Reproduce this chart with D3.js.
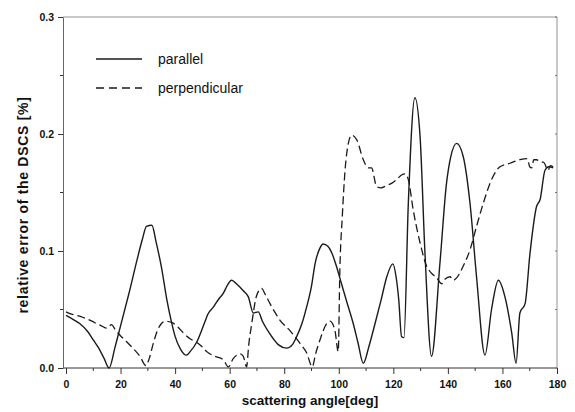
<!DOCTYPE html>
<html>
<head>
<meta charset="utf-8">
<script src="https://cdn.jsdelivr.net/npm/d3@7"></script>
<style>
  html, body { margin: 0; padding: 0; background: #fff; }
  svg { display: block; }
</style>
</head>
<body>
<div id="chart"></div>
<script>
// scattering angle [deg] / relative error [%]
const parallelX = [0, 3, 5, 8, 10, 12, 14, 15.8, 18, 20, 23, 26, 28, 29.5, 31.5, 33, 35, 37, 38.7, 40, 42, 44.2, 45.5, 47.9,
  51, 52, 54, 56, 57.7, 59, 60.7, 62, 63.8, 65, 66.8, 68.7, 70.5, 72, 74.2, 76, 77.8, 80.9, 83, 84.6, 86.5, 88.2, 90,
  91.3, 93, 94.3, 96, 97.5, 99, 101, 103, 105.3, 107, 109, 111, 113.3, 115.5, 117.6, 119.8, 121, 122, 123, 123.9,
  125.5, 127.9, 129.8, 131.6, 134, 137.1, 139.5, 141, 143.2, 145.6, 148.1, 150.5, 153.6, 156, 158.5, 160.9, 163.4,
  165, 166.4, 168.3, 170.1, 172.5, 173.8, 175.6, 177, 178.6];
const parallelY = [0.045, 0.041, 0.038, 0.031, 0.024, 0.017, 0.008, 0.0, 0.018, 0.036, 0.063, 0.092, 0.110, 0.121, 0.122,
  0.108, 0.086, 0.058, 0.039, 0.027, 0.016, 0.011, 0.014, 0.022, 0.040, 0.046, 0.052, 0.059, 0.064, 0.070, 0.075,
  0.073, 0.069, 0.066, 0.061, 0.047, 0.048, 0.040, 0.031, 0.025, 0.020, 0.017, 0.020, 0.027, 0.038, 0.052, 0.070,
  0.089, 0.102, 0.106, 0.104, 0.098, 0.088, 0.072, 0.056, 0.038, 0.022, 0.004, 0.018, 0.038, 0.058, 0.078, 0.089,
  0.078, 0.058, 0.027, 0.026, 0.141, 0.231, 0.198, 0.098, 0.010, 0.090, 0.158, 0.180, 0.192, 0.181, 0.141, 0.078,
  0.011, 0.050, 0.075, 0.061, 0.030, 0.004, 0.047, 0.055, 0.098, 0.138, 0.144, 0.169, 0.172, 0.171];

const perpX = [0, 2, 3.9, 5.5, 7.6, 9.5, 11.2, 13, 14.9, 16.7, 18, 19.8, 22, 24.1, 27.1, 29.3, 30.5, 32, 33.5, 35, 36.5,
  38.7, 41, 43, 45.5, 48.5, 50, 51.6, 54.6, 57.7, 59.5, 61.3, 63.8, 65, 66.2, 67, 68.1, 69.9, 71.7, 73, 74.8, 76.5,
  78.4, 82.1, 85.8, 88.2, 90.3, 91.5, 93.1, 95.6, 96.8, 98.6, 99.8, 100.4, 101.3, 102.3, 103.5, 104.7, 106.6, 109,
  110.8, 112, 113.9, 115.5, 117.6, 119.5, 121.2, 123, 124.3, 125.5, 127.3, 129.8, 132.2, 134, 135.9, 137.7, 139,
  140.8, 142, 143.2, 145.6, 148.1, 150.5, 153, 156, 159.1, 162.8, 166.4, 169.1, 170, 170.7, 171.5, 172.5, 174, 175,
  176.8, 177.5, 178.6];
const perpY = [0.048, 0.046, 0.045, 0.044, 0.042, 0.040, 0.038, 0.036, 0.034, 0.037, 0.033, 0.028, 0.023, 0.018, 0.010,
  0.002, 0.008, 0.021, 0.032, 0.038, 0.040, 0.039, 0.035, 0.030, 0.025, 0.021, 0.018, 0.014, 0.010, 0.007, 0.001,
  0.008, 0.012, 0.010, 0.001, 0.020, 0.038, 0.062, 0.068, 0.063, 0.055, 0.048, 0.041, 0.032, 0.021, 0.013, 0.001,
  0.012, 0.024, 0.038, 0.040, 0.032, 0.014, 0.084, 0.130, 0.169, 0.192, 0.199, 0.195, 0.178, 0.171, 0.171, 0.155,
  0.154, 0.156, 0.158, 0.161, 0.165, 0.166, 0.161, 0.135, 0.107, 0.087, 0.081, 0.077, 0.072, 0.076, 0.078, 0.075,
  0.077, 0.087, 0.101, 0.121, 0.141, 0.161, 0.172, 0.175, 0.178, 0.179, 0.172, 0.171, 0.178, 0.178, 0.176, 0.176,
  0.169, 0.173, 0.172];

const xTicks = [0, 20, 40, 60, 80, 100, 120, 140, 160, 180];
const xMinor = [10, 30, 50, 70, 90, 110, 130, 150, 170];
const yTicks = [0.0, 0.1, 0.2, 0.3];
const yMinor = [0.05, 0.15, 0.25];

const width = 575, height = 412;
const frameLeft = 63, frameRight = 557, frameTop = 17, frameBottom = 368;

const x = d3.scaleLinear().domain([0, 180]).range([66, 557]);
const y = d3.scaleLinear().domain([0, 0.3]).range([frameBottom, frameTop]);

const svg = d3.select("#chart")
  .append("svg")
  .attr("width", width)
  .attr("height", height)
  .attr("viewBox", [0, 0, width, height])
  .style("font-family", "'Liberation Sans', Arial, sans-serif");

// frame: top and right are faint
svg.append("line")
  .attr("x1", frameLeft).attr("x2", frameRight)
  .attr("y1", frameTop).attr("y2", frameTop)
  .attr("stroke", "#777").attr("stroke-width", 0.8);
svg.append("line")
  .attr("x1", frameRight).attr("x2", frameRight)
  .attr("y1", frameTop).attr("y2", frameBottom)
  .attr("stroke", "#777").attr("stroke-width", 0.8);

// bottom axis
const xAxis = d3.axisBottom(x).tickValues(xTicks).tickSize(6).tickSizeOuter(0).tickFormat(d3.format("d"));
svg.append("g")
  .attr("transform", `translate(0,${frameBottom})`)
  .call(xAxis)
  .call(g => g.select(".domain").attr("d", `M${frameLeft},0H${frameRight}`).attr("stroke", "#333"))
  .call(g => g.selectAll(".tick line").attr("stroke", "#333"))
  .call(g => g.selectAll(".tick text")
    .attr("font-size", 10.5).attr("font-weight", "bold").attr("fill", "#111").attr("dy", "1em"));

svg.append("g")
  .selectAll("line")
  .data(xMinor)
  .join("line")
  .attr("x1", d => x(d)).attr("x2", d => x(d))
  .attr("y1", frameBottom).attr("y2", frameBottom + 3)
  .attr("stroke", "#333");

// left axis
const yAxis = d3.axisLeft(y).tickValues(yTicks).tickSize(5).tickSizeOuter(0).tickFormat(d3.format(".1f"));
svg.append("g")
  .attr("transform", `translate(${frameLeft},0)`)
  .call(yAxis)
  .call(g => g.select(".domain").attr("stroke", "#666"))
  .call(g => g.selectAll(".tick line").attr("stroke", "#333"))
  .call(g => g.selectAll(".tick text")
    .attr("font-size", 10.5).attr("font-weight", "bold").attr("fill", "#111").attr("x", -9));

svg.append("g")
  .selectAll("line")
  .data(yMinor)
  .join("line")
  .attr("x1", frameLeft - 3).attr("x2", frameLeft)
  .attr("y1", d => y(d)).attr("y2", d => y(d))
  .attr("stroke", "#333");

// right side small inward ticks
svg.append("g")
  .selectAll("line")
  .data(yTicks.concat(yMinor))
  .join("line")
  .attr("x1", frameRight - 2).attr("x2", frameRight)
  .attr("y1", d => y(d)).attr("y2", d => y(d))
  .attr("stroke", "#777");

// axis titles
svg.append("text")
  .attr("x", 310).attr("y", 405)
  .attr("text-anchor", "middle")
  .attr("font-size", 13.5).attr("font-weight", "bold").attr("fill", "#111")
  .text("scattering angle[deg]");

svg.append("text")
  .attr("transform", `translate(28,205) rotate(-90)`)
  .attr("text-anchor", "middle")
  .attr("font-size", 14).attr("font-weight", "bold").attr("fill", "#111")
  .attr("letter-spacing", 0.7)
  .text("relative error of the DSCS [%]");

// curves
const line = (X, Y) => d3.line()
  .x(i => x(X[i]))
  .y(i => y(Y[i]))
  .curve(d3.curveMonotoneX)(d3.range(X.length));

svg.append("path")
  .attr("d", line(parallelX, parallelY))
  .attr("fill", "none")
  .attr("stroke", "#1a1a1a")
  .attr("stroke-width", 1.4)
  .attr("stroke-linejoin", "round");

svg.append("path")
  .attr("d", line(perpX, perpY))
  .attr("fill", "none")
  .attr("stroke", "#1a1a1a")
  .attr("stroke-width", 1.3)
  .attr("stroke-dasharray", "8,4")
  .attr("stroke-linejoin", "round");

// legend
const legend = [
  { label: "parallel", dash: null, ly: 59 },
  { label: "perpendicular", dash: "8,5", ly: 88 }
];
const lg = svg.append("g").selectAll("g").data(legend).join("g");
lg.append("line")
  .attr("x1", 96).attr("x2", 142)
  .attr("y1", d => d.ly).attr("y2", d => d.ly)
  .attr("stroke", "#1a1a1a").attr("stroke-width", 1.4)
  .attr("stroke-dasharray", d => d.dash);
lg.append("text")
  .attr("x", 158).attr("y", d => d.ly)
  .attr("dy", "0.35em")
  .attr("font-size", 14).attr("fill", "#111")
  .text(d => d.label);
</script>
</body>
</html>
